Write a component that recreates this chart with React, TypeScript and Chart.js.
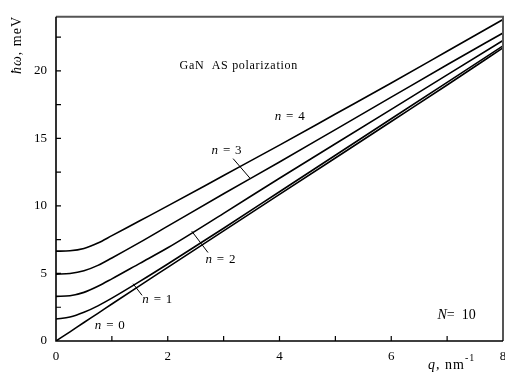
import { useEffect, useRef } from 'react';
import { Chart, registerables } from 'chart.js';
Chart.register(...registerables);

const qValues = [0, 0.25, 0.5, 0.75, 1, 1.5, 2, 3, 4, 5, 6, 7, 8];
const n0 = [0, 0.68, 1.37, 2.05, 2.74, 4.1, 5.45, 8.15, 10.85, 13.55, 16.25, 18.95, 21.7];
const n1 = [1.63, 1.77, 2.12, 2.6, 3.17, 4.41, 5.7, 8.35, 11.05, 13.75, 16.45, 19.15, 21.85];
const n2 = [3.3, 3.35, 3.6, 4.05, 4.6, 5.75, 6.9, 9.45, 12.05, 14.6, 17.15, 19.7, 22.25];
const n3 = [4.95, 5.0, 5.2, 5.6, 6.15, 7.3, 8.5, 10.9, 13.25, 15.65, 18.05, 20.45, 22.8];
const n4 = [6.65, 6.68, 6.85, 7.25, 7.8, 8.9, 10.0, 12.25, 14.5, 16.8, 19.1, 21.45, 23.8];
const seriesList = [n0, n1, n2, n3, n4];
const xTickLabels = ['0', '2', '4', '6', '8'];
const yTickLabels = ['0', '5', '10', '15', '20'];

const FONT = '"Liberation Serif", "Times New Roman", serif';

type Part = { t: string; italic?: boolean; sup?: boolean };

function drawParts(ctx: CanvasRenderingContext2D, parts: Part[], x: number, y: number, size: number, align: 'center' | 'left', spacing = 0) {
  ctx.save();
  ctx.textBaseline = 'middle';
  ctx.textAlign = 'left';
  (ctx as any).letterSpacing = spacing + 'px';
  const fontFor = (p: Part) => `${p.italic ? 'italic ' : ''}${p.sup ? Math.round(size * 0.7) : size}px ${FONT}`;
  let total = 0;
  const widths = parts.map((p) => {
    ctx.font = fontFor(p);
    const w = ctx.measureText(p.t).width;
    total += w;
    return w;
  });
  let cx = align === 'center' ? x - total / 2 : x;
  parts.forEach((p, i) => {
    ctx.font = fontFor(p);
    ctx.fillText(p.t, cx, p.sup ? y - size * 0.45 : y);
    cx += widths[i];
  });
  ctx.restore();
}

const annotate = {
  id: 'annotate',
  afterDraw(chart: any) {
    const ctx: CanvasRenderingContext2D = chart.ctx;
    const xs = chart.scales.x;
    const ys = chart.scales.y;
    const { left, right, top, bottom } = chart.chartArea;
    const px = (v: number) => xs.getPixelForValue(v);
    const py = (v: number) => ys.getPixelForValue(v);
    ctx.save();
    ctx.fillStyle = '#000';
    // frame
    ctx.strokeStyle = '#555';
    ctx.lineWidth = 2;
    ctx.beginPath();
    ctx.moveTo(left, top);
    ctx.lineTo(right, top);
    ctx.lineTo(right, bottom);
    ctx.stroke();
    ctx.strokeStyle = '#000';
    ctx.lineWidth = 1.6;
    ctx.beginPath();
    ctx.moveTo(left, top);
    ctx.lineTo(left, bottom);
    ctx.lineTo(right, bottom);
    ctx.stroke();
    // inward ticks
    ctx.lineWidth = 1.2;
    ctx.beginPath();
    for (let v = 1; v < 8; v += 1) {
      const p = px(v);
      ctx.moveTo(p, bottom);
      ctx.lineTo(p, bottom - 5);
    }
    for (let v = 2.5; v < 24; v += 2.5) {
      const p = py(v);
      ctx.moveTo(left, p);
      ctx.lineTo(left + 5, p);
    }
    ctx.stroke();
    // leader lines
    ctx.lineWidth = 1;
    ctx.beginPath();
    ctx.moveTo(px(3.17), py(13.5));
    ctx.lineTo(px(3.47), py(12.06));
    ctx.moveTo(px(2.43), py(8.13));
    ctx.lineTo(px(2.72), py(6.55));
    ctx.moveTo(px(1.38), py(4.24));
    ctx.lineTo(px(1.54), py(3.38));
    ctx.stroke();
    // texts
    drawParts(ctx, [{ t: 'GaN  AS polarization' }], px(3.27), py(20.4), 12, 'center', 0.7);
    const lab = (n: string, q: number, v: number) =>
      drawParts(ctx, [{ t: 'n', italic: true }, { t: ' = ' + n }], px(q), py(v), 13, 'center', 0.8);
    lab('4', 4.19, 16.6);
    lab('3', 3.06, 14.1);
    lab('2', 2.95, 6.04);
    lab('1', 1.82, 3.09);
    lab('0', 0.97, 1.15);
    drawParts(ctx, [{ t: 'N', italic: true }, { t: '=  10' }], px(7.17), py(1.87), 14, 'center');
    // axis titles
    drawParts(ctx, [{ t: 'q', italic: true }, { t: ', nm' }, { t: '-1', sup: true }], 428, 365, 14, 'left', 1);
    ctx.save();
    ctx.translate(17, 45);
    ctx.rotate(-Math.PI / 2);
    drawParts(ctx, [{ t: 'ħω', italic: true }, { t: ', meV' }], 0, 0, 14, 'center', 1);
    ctx.restore();
    ctx.restore();
  },
};

export default function App() {
  const ref = useRef<HTMLCanvasElement | null>(null);
  useEffect(() => {
    document.body.style.margin = '0';
    const canvas = ref.current;
    if (!canvas) return;
    const chart = new Chart(canvas, {
      type: 'line',
      data: {
        datasets: seriesList.map((s, i) => ({
          label: 'n = ' + i,
          data: qValues.map((q, j) => ({ x: q, y: s[j] })),
          borderColor: '#000',
          borderWidth: 1.6,
          pointRadius: 0,
          fill: false,
          cubicInterpolationMode: 'monotone' as const,
        })),
      },
      options: {
        animation: false,
        responsive: false,
        devicePixelRatio: 1,
        layout: { padding: { top: 7, right: 2, left: 0, bottom: 0 } },
        plugins: { legend: { display: false }, tooltip: { enabled: false } },
        scales: {
          x: {
            type: 'linear',
            min: 0,
            max: 8,
            afterFit: (s: any) => {
              s.height = 36;
              s.paddingLeft = 0;
              s.paddingRight = 0;
            },
            grid: { display: false, drawTicks: false },
            border: { display: false },
            ticks: {
              stepSize: 2,
              autoSkip: false,
              maxRotation: 0,
              padding: 8,
              color: '#000',
              font: { family: FONT, size: 13 },
              callback: (v: any) => xTickLabels.find((t) => Number(t) === v) ?? '',
            },
          },
          y: {
            min: 0,
            max: 24,
            afterFit: (s: any) => {
              s.width = 56;
            },
            grid: { display: false, drawTicks: false },
            border: { display: false },
            ticks: {
              stepSize: 5,
              autoSkip: false,
              padding: 9,
              color: '#000',
              font: { family: FONT, size: 13 },
              callback: (v: any) => yTickLabels.find((t) => Number(t) === v) ?? '',
            },
          },
        },
      },
      plugins: [annotate],
    });
    return () => chart.destroy();
  }, []);
  return (
    <div style={{ width: 505, height: 377, background: '#fff' }}>
      <canvas ref={ref} width={505} height={377} style={{ display: 'block' }} />
    </div>
  );
}
